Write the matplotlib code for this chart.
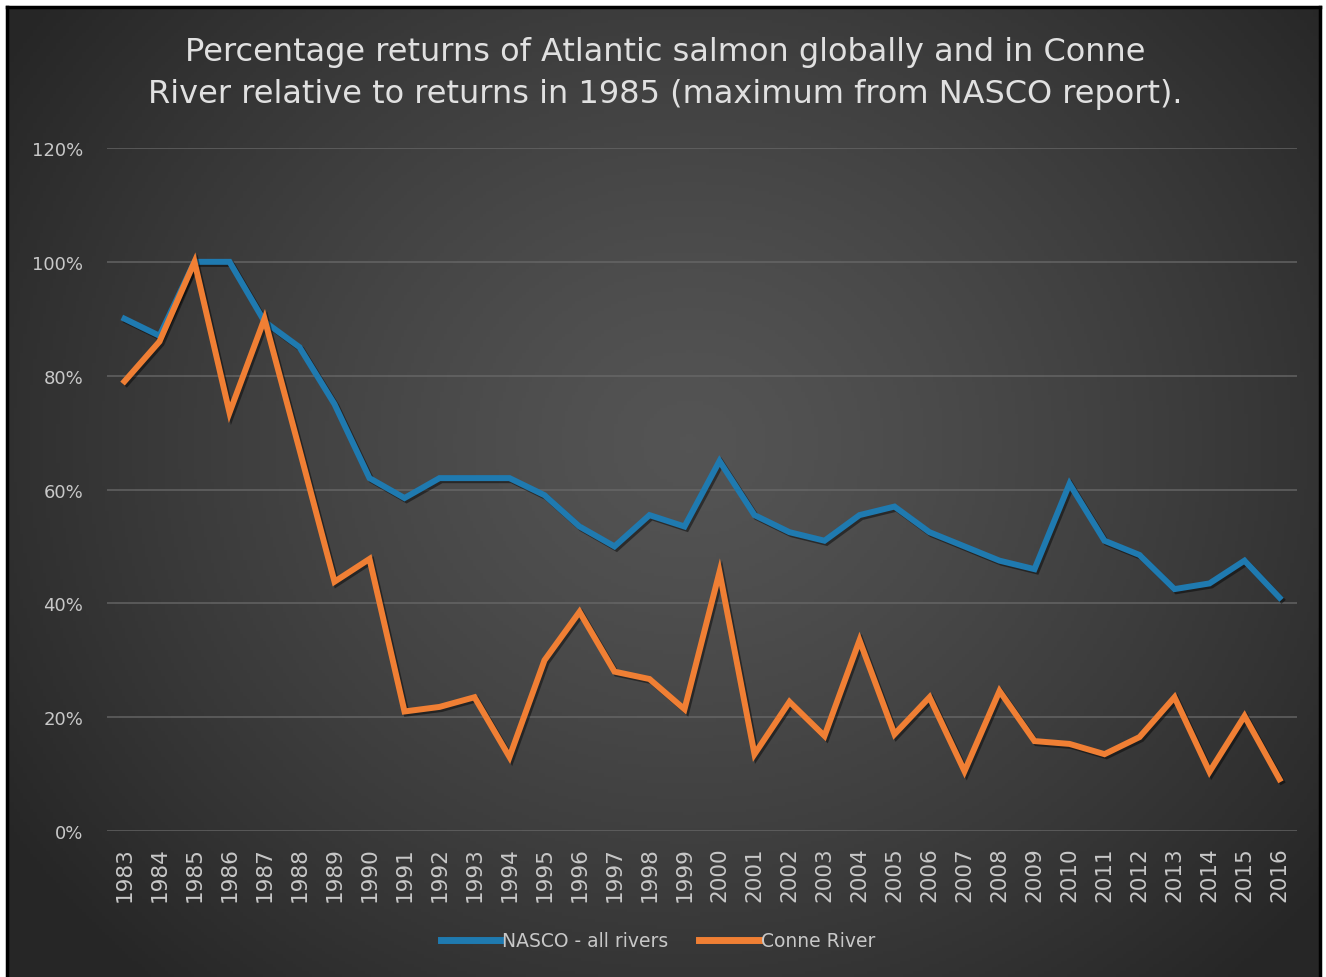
import numpy as np
import matplotlib
matplotlib.use("Agg")
import matplotlib.pyplot as plt
import matplotlib.patheffects as pe
from matplotlib.lines import Line2D
from matplotlib.ticker import PercentFormatter

# data
years = [str(y) for y in range(1983, 2017)]
nasco = [90, 87, 100, 100, 89.5, 85, 75, 62, 58.5, 62, 62, 62, 59, 53.5, 50, 55.5,
         53.5, 65, 55.5, 52.5, 51, 55.5, 57, 52.5, 50, 47.5, 46, 61, 51, 48.5,
         42.5, 43.5, 47.5, 41]
conne = [79, 86, 100, 73.5, 90, 67, 43.8, 47.8, 21, 21.8, 23.5, 13, 30, 38.5, 28, 26.7,
         21.4, 45.5, 13.5, 22.7, 16.7, 33.5, 17, 23.5, 10.5, 24.6, 15.8, 15.3, 13.5,
         16.5, 23.5, 10.4, 20.2, 9.1]
yticks = [0, 20, 40, 60, 80, 100, 120]

blue = "#1f7ab0"
orange = "#f07f34"
txt = "#c8c8c8"

W, H = 1326, 978
fig = plt.figure(figsize=(W / 100, H / 100), dpi=100)
fig.patch.set_facecolor("white")

# dark radial gradient background
bg = fig.add_axes([7 / W, 0, (1320 - 7) / W, 1 - 8 / H])
gx, gy = np.meshgrid(np.linspace(0, 1, 400), np.linspace(0, 1, 300))
r = np.sqrt(((gx - 0.52) / 0.62) ** 2 + ((gy - 0.55) / 0.75) ** 2)
shade = 0.33 - 0.18 * np.clip(r, 0, 1) ** 1.3
bg.imshow(np.dstack([shade] * 3), extent=[0, 1, 0, 1], aspect="auto", origin="lower")
bg.set_xlim(0, 1)
bg.set_ylim(0, 1)
bg.axis("off")

# black frame (left, top, right; bottom is cut off)
def px(xp, yp):
    return xp / W, 1 - yp / H

for (x0, y0), (x1, y1) in [((7, 980), (7, 7.5)), ((7, 7.5), (1320, 7.5)), ((1320, 7.5), (1320, 980))]:
    a, b = px(x0, y0)
    c, d = px(x1, y1)
    fig.add_artist(Line2D([a, c], [b, d], color="black", lw=2.5, transform=fig.transFigure))

ax = fig.add_axes([107 / W, 1 - 832 / H, 1190 / W, (832 - 149) / H])
ax.patch.set_alpha(0)
x = np.arange(len(years))
shadow = [pe.SimpleLineShadow(offset=(1.5, -1.5), shadow_color="black", alpha=0.45), pe.Normal()]
ax.plot(x, nasco, color=blue, lw=4.3, label="NASCO - all rivers",
        solid_joinstyle="miter", path_effects=shadow, zorder=3)
ax.plot(x, conne, color=orange, lw=4.3, label="Conne River",
        solid_joinstyle="miter", path_effects=shadow, zorder=4)

ax.set_xlim(-0.5, len(years) - 0.5)
ax.set_ylim(0, 120)
ax.set_yticks(yticks)
ax.yaxis.set_major_formatter(PercentFormatter(decimals=0))
ax.set_xticks(x)
ax.set_xticklabels(years, rotation=90)
ax.tick_params(axis="x", length=0, pad=11, labelsize=15.5, labelcolor=txt)
ax.tick_params(axis="y", length=0, pad=17, labelsize=13, labelcolor=txt)
ax.grid(axis="y", color="#6a6a6a", lw=1.2, alpha=0.8)
for s in ax.spines.values():
    s.set_visible(False)

fig.text(0.502, 1 - 52 / H, "Percentage returns of Atlantic salmon globally and in Conne",
         ha="center", va="center", fontsize=23, color="#e0e0e0")
fig.text(0.502, 1 - 94 / H, "River relative to returns in 1985 (maximum from NASCO report).",
         ha="center", va="center", fontsize=23, color="#e0e0e0")

leg = fig.legend(loc="center", bbox_to_anchor=(0.496, 1 - 942 / H), ncol=2,
                 frameon=False, fontsize=13.5, handlelength=3.2, handletextpad=0.1,
                 columnspacing=1.6)
for t in leg.get_texts():
    t.set_color(txt)
for h in leg.legend_handles:
    h.set_linewidth(5)
    h.set_path_effects([])

plt.savefig("out.png", dpi=100)
